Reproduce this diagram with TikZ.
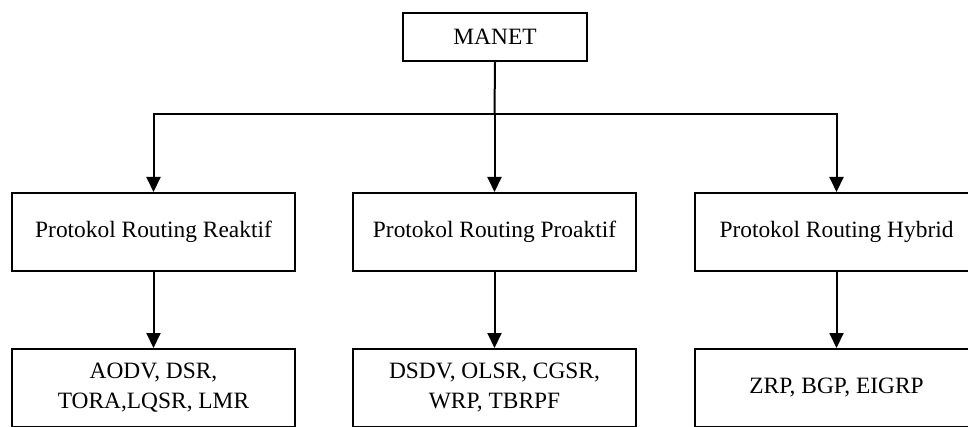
\documentclass[tikz,border=0pt]{standalone}
\usepackage{fontspec}
\setmainfont{Liberation Serif}
\usetikzlibrary{arrows.meta}
\begin{document}
\begin{tikzpicture}[x=1pt,y=1pt,
  box/.style={draw=black, line width=2pt, fill=white, inner sep=0pt, align=center,
    font=\fontsize{23.4}{30}\selectfont},
  levelbox/.style={box, minimum width=283pt, minimum height=78pt},
  conn/.style={line width=2pt, draw=black},
  arr/.style={conn, -{Triangle[length=15pt, width=14pt]}}]
\useasboundingbox (0,0) rectangle (968,426);
\clip (0,0) rectangle (968,426);
\node[box, minimum width=184pt, minimum height=48pt] (manet) at (495,389) {MANET};
\node[levelbox] (r1) at (153.5,194) {Protokol Routing Reaktif};
\node[levelbox] (r2) at (494.5,194) {Protokol Routing Proaktif};
\node[levelbox] (r3) at (836.5,194) {Protokol Routing Hybrid};
\node[levelbox] (p1) at (153.5,38) {AODV, DSR,\\TORA,LQSR, LMR};
\node[levelbox] (p2) at (494.5,38) {DSDV, OLSR, CGSR,\\WRP, TBRPF};
\node[levelbox] (p3) at (836.5,38) {ZRP, BGP, EIGRP};
\coordinate (hub) at (494.5,312);
\draw[conn] (manet.south) -- (hub);
\draw[arr] (hub) -| (r1.north);
\draw[arr] (hub) -- (r2.north);
\draw[arr] (hub) -| (r3.north);
\draw[arr] (r1.south) -- (p1.north);
\draw[arr] (r2.south) -- (p2.north);
\draw[arr] (r3.south) -- (p3.north);
\end{tikzpicture}
\end{document}
